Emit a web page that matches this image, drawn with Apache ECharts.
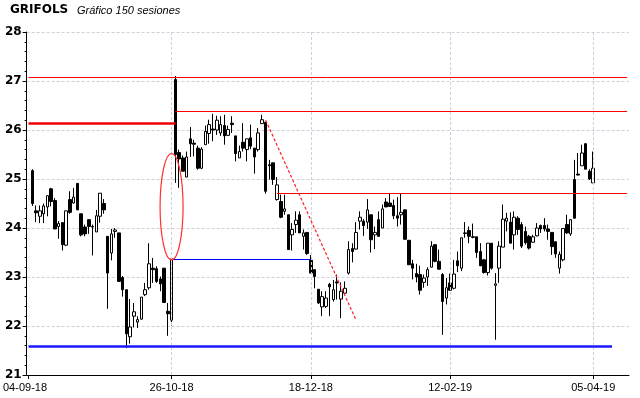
<!DOCTYPE html>
<html>
<head>
<meta charset="utf-8">
<script src="https://cdn.jsdelivr.net/npm/echarts@6/dist/echarts.min.js"></script>
<style>
html,body{margin:0;padding:0;background:#fff;}
#chart{width:640px;height:398px;}
</style>
</head>
<body>
<div id="chart"></div>
<script>
// ---- Data ----
const opens = [25.17,24.35,24.24,24.29,24.43,24.80,24.56,24.03,24.11,23.65,24.58,24.51,24.91,24.29,24.02,24.17,24.03,23.92,24.24,24.50,
23.83,23.49,23.93,23.90,22.99,22.74,21.78,22.20,22.08,22.14,22.64,22.78,23.18,23.17,22.96,23.18,22.30,22.12,27.03,25.54,
25.43,25.04,25.82,25.73,25.63,25.22,25.70,25.93,26.02,26.00,25.94,26.09,25.89,26.14,25.88,25.43,25.75,25.60,25.84,25.63,
25.60,26.13,26.16,25.29,25.33,24.58,24.54,24.34,24.27,23.86,24.07,24.27,23.83,23.91,23.34,23.15,22.75,22.39,22.40,22.85,
22.54,22.90,22.55,22.67,23.08,23.58,23.57,24.14,24.14,24.12,24.27,23.86,24.17,24.00,24.53,24.51,24.46,24.25,24.27,24.37,
23.75,23.27,23.07,23.05,22.89,23.00,23.20,23.66,23.32,23.05,22.57,22.88,22.77,23.33,23.18,23.90,23.95,23.82,23.82,23.52,
23.35,23.09,23.69,22.83,23.18,23.61,24.14,24.12,23.86,24.20,24.07,23.93,23.83,23.71,23.84,24.05,24.05,23.98,23.91,23.72,
23.18,23.35,24.07,23.88,24.99,25.10,25.27,25.72,25.16,24.92];
const closes = [24.50,24.31,24.35,24.45,24.66,24.54,23.98,24.09,23.66,24.35,24.32,24.63,24.37,23.86,23.88,24.03,24.02,24.25,24.71,24.37,
23.08,23.88,23.96,22.91,22.74,21.84,21.98,22.29,22.13,22.59,22.74,23.27,23.15,22.91,22.86,22.48,22.25,23.37,25.50,25.41,
25.16,25.45,25.72,25.71,25.22,25.61,25.97,26.11,26.00,26.20,26.11,25.88,26.01,26.11,25.52,25.56,25.63,25.82,25.67,25.45,
25.94,26.21,24.75,25.27,24.99,24.88,24.22,24.39,23.56,23.97,24.16,23.90,23.90,23.48,23.08,23.01,22.47,22.60,22.57,22.80,
22.74,22.88,22.71,22.77,23.56,23.52,23.91,24.22,24.05,24.37,23.76,23.91,23.83,24.39,24.43,24.44,24.25,24.20,24.32,23.77,
23.25,23.18,23.00,22.73,22.98,23.15,23.63,23.32,23.16,22.50,22.78,22.73,23.06,23.23,23.80,23.89,23.83,23.81,23.50,23.23,
23.09,23.69,23.18,22.86,23.63,24.18,24.20,23.69,24.22,23.97,23.63,23.70,23.59,23.82,24.00,23.98,23.98,23.93,23.62,23.47,
23.46,23.99,23.90,24.17,24.20,25.08,25.53,25.20,25.00,25.22];
const lows = [24.45,24.12,24.10,24.10,24.24,24.44,23.98,23.78,23.54,23.63,24.29,24.50,24.37,23.83,23.83,23.88,23.44,23.92,24.11,24.29,
22.35,23.34,23.80,22.91,22.60,21.55,21.64,21.97,21.96,22.13,22.61,22.74,22.88,22.88,22.71,22.47,21.80,22.01,24.92,24.82,
25.16,25.04,25.45,25.46,25.19,25.20,25.70,25.72,25.77,25.90,25.88,25.70,25.88,25.94,25.36,25.43,25.56,25.36,25.61,25.11,
25.56,26.13,24.70,24.99,24.88,24.56,24.20,24.27,23.56,23.54,23.90,23.90,23.56,23.45,23.08,22.77,22.45,22.20,22.37,22.20,
22.50,22.54,22.16,22.64,23.05,23.30,23.56,23.97,23.84,23.98,23.50,23.57,23.83,24.00,24.43,24.43,24.18,24.03,24.07,23.76,
23.25,22.95,22.89,22.64,22.78,22.82,23.20,23.30,23.15,21.82,22.44,22.73,22.75,23.10,23.12,23.80,23.69,23.79,23.39,23.22,
23.07,23.03,23.15,21.72,22.88,23.61,23.93,23.69,23.56,23.86,23.59,23.66,23.56,23.70,23.83,23.90,23.93,23.76,23.45,23.39,
23.07,23.32,23.88,23.84,24.20,25.08,25.27,25.20,24.98,24.92];
const highs = [25.20,24.46,24.46,24.50,24.66,24.82,24.61,24.14,24.12,24.35,24.75,24.82,24.91,24.29,24.07,24.17,24.07,24.37,24.71,24.59,
23.83,23.98,24.00,23.90,23.02,22.74,22.55,22.47,22.20,22.59,22.88,23.69,23.39,23.22,23.01,23.18,22.47,23.37,27.10,25.60,
25.48,25.56,26.06,25.80,25.68,25.65,26.09,26.21,26.33,26.29,26.28,26.31,26.09,26.28,25.88,25.68,26.14,25.82,26.11,25.63,
26.04,26.31,26.16,25.39,25.33,25.04,24.68,24.68,24.27,24.10,24.34,24.34,23.97,23.91,23.45,23.15,22.75,22.71,22.71,22.88,
22.94,23.05,22.89,22.91,23.73,23.69,24.12,24.34,24.18,24.59,24.27,24.03,24.34,24.48,24.61,24.70,24.58,24.63,24.71,24.37,
23.75,23.35,23.27,23.23,23.05,23.20,23.73,23.66,23.56,23.08,22.98,23.07,23.35,23.52,23.80,24.12,24.03,24.09,23.82,23.69,
23.37,23.69,23.69,23.08,23.73,24.48,24.31,24.32,24.34,24.24,24.12,24.03,23.86,23.86,24.10,24.07,24.20,24.07,23.91,23.72,
23.52,23.99,24.27,24.18,25.39,25.53,25.70,25.72,25.20,25.56];

// x-axis date labels and the category slot where each sits
const tickLabels = ['04-09-18','26-10-18','18-12-18','12-02-19','05-04-19'];
const tickSlots  = [0, 38, 75, 112, 150];
const yTicks = [21, 28];

// horizontal support / resistance levels [startSlot, endSlot, price]
const redLevels  = [[0, 159, 27.07], [39, 159, 26.38], [66, 159, 24.70]];
const redThick   = [[0, 39, 26.13]];
const blueLevels = [[38, 75, 23.37]];
const blueThick  = [[0, 155, 21.59]];
const trendLine  = [[63, 26.20], [87, 22.12]];
const gapEllipse = [[38, 25.52, 23.35]];

// ---- layout of categories: 1 empty slot before, 9 after ----
const padBefore = 1, padAfter = 9;
const nSlots = padBefore + opens.length + padAfter;
const categories = Array.from({length: nSlots}, (_, i) => String(i));
const labelMap = {};
tickLabels.forEach((t, k) => { labelMap[tickSlots[k]] = t; });
const candleData = opens.map((o, i) => [i + padBefore, o, closes[i], lows[i], highs[i]]);

function seg(list, style) {
  return list.map(s => [{coord: [s[0], s[2]], lineStyle: style}, {coord: [s[1], s[2]]}]);
}

const chart = echarts.init(document.getElementById('chart'), null, {renderer: 'canvas'});
const gridColor = '#d2cfdc';
chart.setOption({
  animation: false,
  backgroundColor: '#ffffff',
  title: [
    {text: 'GRIFOLS', left: 10, top: 4, padding: 0,
     textStyle: {fontFamily: 'DejaVu Sans', fontWeight: 'bold', fontSize: 12, color: '#000'}},
    {text: 'Gráfico 150 sesiones', left: 77, top: 5, padding: 0,
     textStyle: {fontFamily: 'Liberation Sans', fontStyle: 'italic', fontWeight: 'normal', fontSize: 11, color: '#000'}}
  ],
  grid: {left: 26, right: 11, top: 32, bottom: 23, containLabel: false},
  xAxis: {
    type: 'category',
    data: categories,
    boundaryGap: true,
    axisLine: {show: true, lineStyle: {color: '#000', width: 1}},
    axisTick: {show: true, alignWithLabel: true, length: 4, lineStyle: {color: '#000'},
               interval: (i) => labelMap[i] !== undefined},
    axisLabel: {
      show: true, margin: 7, color: '#000', fontFamily: 'Liberation Sans', fontSize: 11,
      interval: (i) => labelMap[i] !== undefined,
      formatter: (v, i) => i === 0 ? '{f|' + labelMap[i] + '}' : (labelMap[i] || ''),
      rich: {f: {fontFamily: 'Liberation Sans', fontSize: 11, color: '#000', padding: [0, 7, 0, 0]}}
    },
    splitLine: {show: false}
  },
  yAxis: {
    type: 'value',
    min: yTicks[0], max: yTicks[1], interval: 1,
    axisLine: {show: true, lineStyle: {color: '#000', width: 1}},
    axisTick: {show: true, length: 4, lineStyle: {color: '#000'}},
    minorTick: {show: true, splitNumber: 5, length: 2, lineStyle: {color: '#000'}},
    axisLabel: {color: '#000', fontFamily: 'DejaVu Sans', fontWeight: 'bold', fontSize: 12, margin: 5},
    splitLine: {show: true, lineStyle: {color: gridColor, type: [3, 2], width: 1}}
  },
  series: [
    {
      type: 'line', data: [], z: 1, silent: true,
      markLine: {
        symbol: 'none', silent: true, animation: false, label: {show: false},
        lineStyle: {color: gridColor, type: [3, 2], width: 1},
        data: tickSlots.slice(1).map(s => ({xAxis: s}))
      }
    },
    {
      type: 'candlestick', z: 3,
      data: candleData,
      encode: {x: 0, y: [1, 2, 3, 4]},
      barWidth: 3,
      itemStyle: {color: '#ffffff', color0: '#000000', borderColor: '#000000', borderColor0: '#000000',
                  borderColorDoji: '#000000', borderWidth: 1}
    },
    {
      type: 'line', data: [], z: 4, silent: true,
      markLine: {
        symbol: 'none', silent: true, animation: false, label: {show: false},
        data: [].concat(
          seg(redLevels, {color: '#ff0000', width: 1, type: 'solid'}),
          seg(redThick, {color: '#f00000', width: 2.6, type: 'solid'}),
          seg(blueLevels, {color: '#0000ff', width: 1, type: 'solid'}),
          seg(blueThick, {color: '#1a1aff', width: 2.6, type: 'solid'}),
          [[{coord: trendLine[0], lineStyle: {color: '#ff2020', width: 1.2, type: [3, 2]}}, {coord: trendLine[1]}]]
        )
      }
    },
    {
      type: 'custom', z: 5, silent: true,
      data: gapEllipse,
      encode: {x: 0, y: [1, 2]},
      renderItem: function (params, api) {
        const top = api.coord([api.value(0), api.value(1)]);
        const bot = api.coord([api.value(0), api.value(2)]);
        return {
          type: 'ellipse',
          shape: {cx: top[0], cy: (top[1] + bot[1]) / 2, rx: 11.5, ry: (bot[1] - top[1]) / 2},
          style: {fill: null, stroke: '#ff3030', lineWidth: 1.2}
        };
      }
    }
  ]
});
</script>
</body>
</html>
